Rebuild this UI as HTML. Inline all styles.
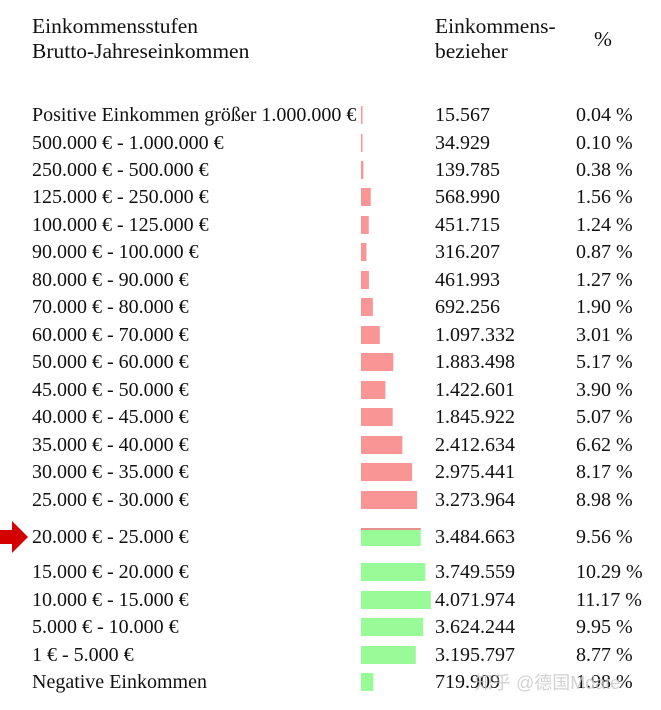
<!DOCTYPE html>
<html><head><meta charset="utf-8"><style>
html,body{margin:0;padding:0;background:#fff;}
svg{display:block;font-family:"Liberation Serif","Noto Serif CJK SC",serif;}
</style></head><body>
<svg id="chart" width="661" height="710" viewBox="0 0 661 710" xmlns="http://www.w3.org/2000/svg">
  <g font-size="21.5" fill="#111">
    <text x="32" y="33">Einkommensstufen</text>
    <text x="32" y="58">Brutto-Jahreseinkommen</text>
    <text x="435" y="33">Einkommens-</text>
    <text x="435" y="58">bezieher</text>
    <text x="594" y="46">%</text>
  </g>
  <polygon points="0,530 12,530 12,521 28,537 12,553 12,544 0,544" fill="#d40000"/>
  <g id="rows"></g>
  <text x="475" y="689" font-family="'Liberation Sans','Noto Sans CJK SC',sans-serif" font-size="18" fill="#c8c8c8" opacity="0.8">知乎 @德国Mdate</text>
</svg>
<script>
const categories = ["Positive Einkommen größer 1.000.000 €","500.000 € - 1.000.000 €","250.000 € - 500.000 €","125.000 € - 250.000 €","100.000 € - 125.000 €","90.000 € - 100.000 €","80.000 € - 90.000 €","70.000 € - 80.000 €","60.000 € - 70.000 €","50.000 € - 60.000 €","45.000 € - 50.000 €","40.000 € - 45.000 €","35.000 € - 40.000 €","30.000 € - 35.000 €","25.000 € - 30.000 €","20.000 € - 25.000 €","15.000 € - 20.000 €","10.000 € - 15.000 €","5.000 € - 10.000 €","1 € - 5.000 €","Negative Einkommen"];
const earners = ["15.567","34.929","139.785","568.990","451.715","316.207","461.993","692.256","1.097.332","1.883.498","1.422.601","1.845.922","2.412.634","2.975.441","3.273.964","3.484.663","3.749.559","4.071.974","3.624.244","3.195.797","719.909"];
const percents = [0.04,0.10,0.38,1.56,1.24,0.87,1.27,1.90,3.01,5.17,3.90,5.07,6.62,8.17,8.98,9.56,10.29,11.17,9.95,8.77,1.98];
const rowCenters = [115,143,170,197,225,252,280,307,335,362,390,417,445,472,500,537,572,600,627,655,682];
const NS = "http://www.w3.org/2000/svg";
const x0 = 361, pxPerPct = 6.25, barH = 18;
const xScale = p => Math.max(1.5, p * pxPerPct);
const g = document.getElementById('rows');
function mk(tag, attrs){ const e = document.createElementNS(NS, tag); for (const k in attrs) e.setAttribute(k, attrs[k]); return e; }
categories.forEach((c, i) => {
  const cy = rowCenters[i];
  const row = mk('g', {});
  
  
  const lbl = mk('text', {x: 32, y: cy + 6, 'font-size': 20, fill: '#111'});
  
  
  lbl.textContent = c;
  row.appendChild(lbl);
  const green = i >= 15;
  const w = xScale(percents[i]);
  const bar = mk('rect', {x: x0, y: cy - barH/2, width: w, height: barH, fill: green ? '#98fb98' : '#f99595'});
  
  
  row.appendChild(bar);
  if (i === 15) {
    const top = mk('rect', {x: x0, y: cy - barH/2, width: w, height: 2, fill: '#e89090'});
    
    
    row.appendChild(top);
  }
  const num = mk('text', {x: 435, y: cy + 6, 'font-size': 20, fill: '#111'});
  
  
  num.textContent = earners[i];
  row.appendChild(num);
  const pct = mk('text', {x: 576, y: cy + 6, 'font-size': 20, fill: '#111'});
  
  
  pct.textContent = percents[i].toFixed(2) + ' %';
  row.appendChild(pct);
  g.appendChild(row);
});
</script>
</body></html>
